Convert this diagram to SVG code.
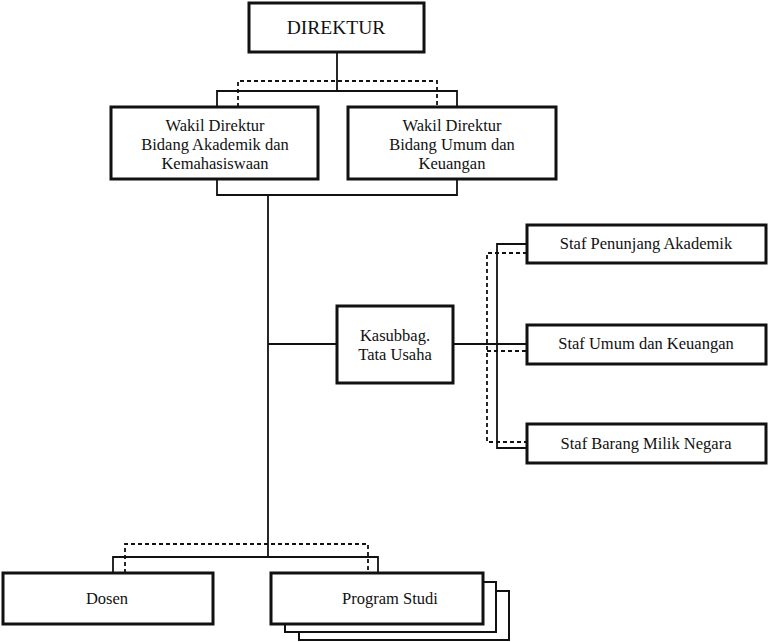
<svg xmlns="http://www.w3.org/2000/svg" width="768" height="642" viewBox="0 0 768 642">
<style>
.box{fill:#fff;stroke:#111;stroke-width:3}
.back{fill:#fff;stroke:#111;stroke-width:2}
.ln{fill:none;stroke:#111;stroke-width:1.8}
.dash{fill:none;stroke:#111;stroke-width:1.8;stroke-dasharray:4 3}
text{font-family:"Liberation Serif","Times New Roman",serif;fill:#111;text-anchor:middle}
.t{font-size:16.5px}
</style>
<rect width="768" height="642" fill="#fff"/>
<g id="connectors">
<path class="ln" d="M337,52 V91 M217,107 V91 H457 V107"/>
<path class="dash" d="M238,107 V81 H437 V107"/>
<path class="ln" d="M217,179 V195 H457 V179 M268,195 V557"/>
<path class="ln" d="M268,344 H337 M453,344 H527"/>
<path class="ln" d="M527,244 H497 V448 H527"/>
<path class="dash" d="M527,253 H487 V442 H527 M487,351 H527"/>
<path class="ln" d="M113,573 V557 H378 V573"/>
<path class="dash" d="M125,573 V544 H368 V573"/>
</g>
<g id="direktur">
<rect class="box" x="249" y="3" width="175" height="49"/>
<text x="336" y="34" font-size="19.5">DIREKTUR</text>
</g>
<g id="wakil-akademik">
<rect class="box" x="111" y="107" width="207" height="72"/>
<text class="t" x="215" y="131">Wakil Direktur</text>
<text class="t" x="215" y="150">Bidang Akademik dan</text>
<text class="t" x="215" y="169">Kemahasiswaan</text>
</g>
<g id="wakil-umum">
<rect class="box" x="348" y="107" width="208" height="72"/>
<text class="t" x="452" y="131">Wakil Direktur</text>
<text class="t" x="452" y="150">Bidang Umum dan</text>
<text class="t" x="452" y="169">Keuangan</text>
</g>
<g id="kasubbag">
<rect class="box" x="337" y="306" width="116" height="77"/>
<text class="t" x="395" y="341">Kasubbag.</text>
<text class="t" x="395" y="360">Tata Usaha</text>
</g>
<g id="staf-penunjang">
<rect class="box" x="527" y="225" width="239" height="38"/>
<text class="t" x="646" y="249">Staf Penunjang Akademik</text>
</g>
<g id="staf-umum">
<rect class="box" x="527" y="325" width="239" height="39"/>
<text class="t" x="646" y="349">Staf Umum dan Keuangan</text>
</g>
<g id="staf-barang">
<rect class="box" x="527" y="424" width="239" height="39"/>
<text class="t" x="646" y="449">Staf Barang Milik Negara</text>
</g>
<g id="dosen">
<rect class="box" x="3" y="573" width="210" height="51"/>
<text class="t" x="107" y="604">Dosen</text>
</g>
<g id="program-studi">
<rect class="back" x="299" y="591" width="210" height="49"/>
<rect class="back" x="285" y="582" width="211" height="50"/>
<rect class="box" x="271" y="573" width="212" height="51"/>
<text class="t" x="390" y="604">Program Studi</text>
</g>
</svg>
